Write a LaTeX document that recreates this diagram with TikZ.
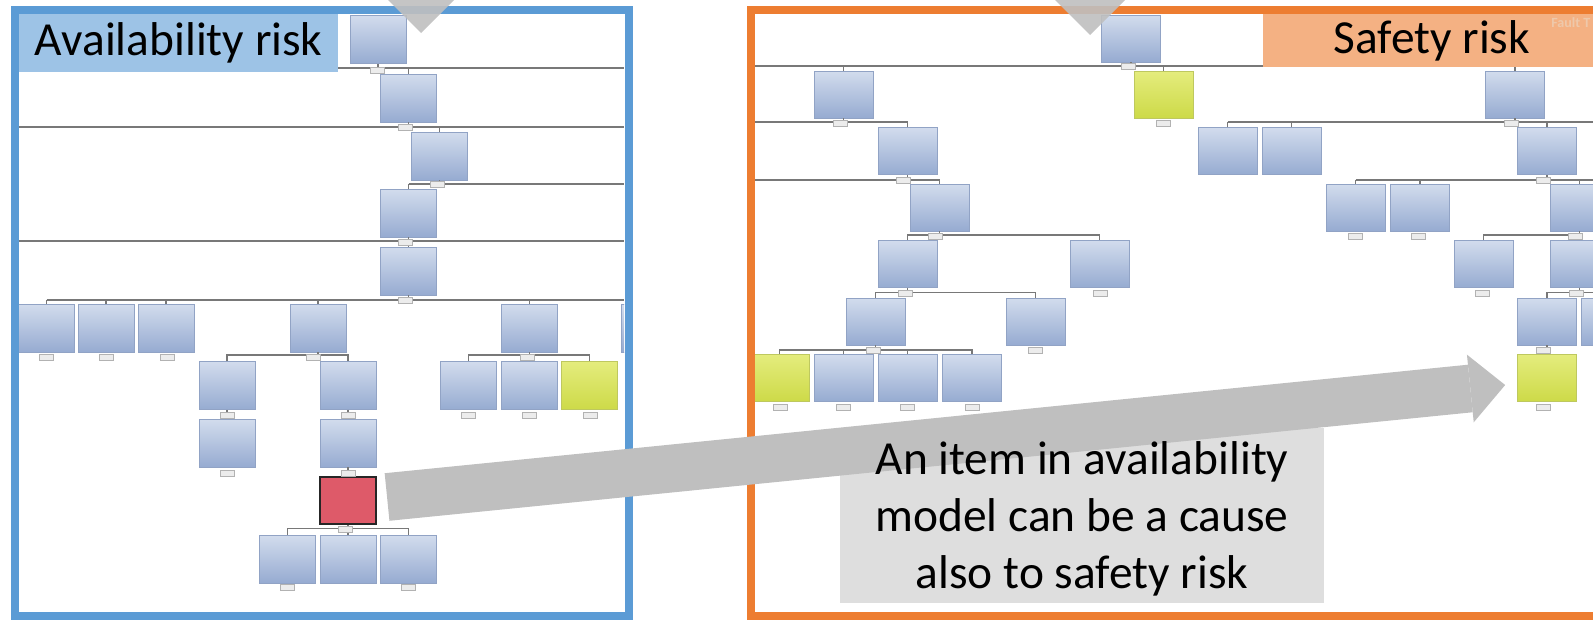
\documentclass[tikz,border=0pt]{standalone}
\usepackage{fontspec}
\setmainfont{Carlito}
\usetikzlibrary{arrows.meta,calc}
\definecolor{availline}{RGB}{91,155,213}
\definecolor{availfill}{RGB}{157,195,230}
\definecolor{safetyline}{RGB}{237,125,49}
\definecolor{safetyfill}{RGB}{244,177,131}
\definecolor{boxtop}{RGB}{210,220,237}
\definecolor{boxbot}{RGB}{150,171,209}
\definecolor{boxedge}{RGB}{145,163,197}
\definecolor{hittop}{RGB}{228,236,125}
\definecolor{hitbot}{RGB}{205,218,72}
\definecolor{hitedge}{RGB}{190,200,95}
\definecolor{redfill}{RGB}{222,90,105}
\definecolor{wiregray}{RGB}{120,120,120}
\definecolor{arrowgray}{RGB}{191,191,191}
\definecolor{notefill}{RGB}{222,222,222}
\definecolor{tagcolor}{RGB}{238,200,170}

\begin{document}
\begin{tikzpicture}[
    x=0.02cm, y=-0.02cm,
    ftbox/.style={rectangle, draw=boxedge, line width=0.4pt, top color=boxtop, bottom color=boxbot, minimum width=1.12cm, minimum height=0.96cm, inner sep=0pt},
    sfbox/.style={ftbox, minimum width=1.18cm, minimum height=0.94cm},
    hitbox/.style={ftbox, draw=hitedge, top color=hittop, bottom color=hitbot},
    redbox/.style={rectangle, draw=black!85, line width=1.2pt, fill=redfill, minimum width=1.12cm, minimum height=0.94cm, inner sep=0pt},
    gate/.style={rectangle, draw=gray!60, fill=gray!15, line width=0.3pt, minimum width=0.28cm, minimum height=0.12cm, inner sep=0pt},
    wire/.style={draw=wiregray, line width=0.85pt},
    titlebox/.style={rectangle, inner sep=0pt, font=\fontsize{27}{32}\selectfont},
    notebox/.style={rectangle, fill=notefill, inner sep=0pt},
    bigarrow/.style={draw=arrowgray, line width=0.956cm, -{Triangle[length=0.7cm, width=1.36cm, line width=0pt]}}
]
\useasboundingbox (0,0) rectangle (1593,619);
\clip (0,0) rectangle (1593,619);

% Availability tree
\begin{scope}
\clip (19,14) rectangle (624,612);
\node[ftbox] (a_top) at (378,39.5) {};
\node[ftbox] (a_n2) at (408.5,98) {};
\node[ftbox] (a_n3) at (439.5,156) {};
\node[ftbox] (a_n4) at (408.5,213) {};
\node[ftbox] (a_n5) at (408.5,271) {};

\node[ftbox] (a_r1) at (46.5,328) {};
\node[ftbox] (a_r2) at (106,328) {};
\node[ftbox] (a_r3) at (166,328) {};
\node[ftbox] (a_r4) at (318,328) {};
\node[ftbox] (a_r5) at (529.5,328) {};
\node[ftbox] (a_r6) at (649,328) {};

\node[ftbox] (a_s1) at (227,385.5) {};
\node[ftbox] (a_s2) at (348,385.5) {};
\node[ftbox] (a_s3) at (468.5,385.5) {};
\node[ftbox] (a_s4) at (529.5,385.5) {};
\node[hitbox] (a_s5) at (589.5,385.5) {};

\node[ftbox] (a_t1) at (227,443) {};
\node[ftbox] (a_t2) at (348,443) {};
\node[redbox] (a_hit) at (348,500.5) {};

\node[ftbox] (a_u1) at (287.5,559) {};
\node[ftbox] (a_u2) at (348,559) {};
\node[ftbox] (a_u3) at (408.5,559) {};

% bus lines
\coordinate (a_bus0w) at (19,68);     \coordinate (a_bus0e) at (624,68);
\coordinate (a_bus1w) at (19,127);    \coordinate (a_bus1e) at (624,127);
\coordinate (a_bus2w) at (408.5,184); \coordinate (a_bus2e) at (624,184);
\coordinate (a_bus3w) at (19,241);    \coordinate (a_bus3e) at (624,241);
\coordinate (a_bus4w) at (46.5,300);  \coordinate (a_bus4e) at (624,300);
\draw[wire] (a_bus0w) -- (a_bus0e);
\draw[wire] (a_bus1w) -- (a_bus1e);
\draw[wire] (a_bus2w) -- (a_bus2e);
\draw[wire] (a_bus3w) -- (a_bus3e);
\draw[wire] (a_bus4w) -- (a_bus4e);

\draw[wire] (a_top.south) -- (a_top.south |- a_bus0w);
\draw[wire] (a_n2.north) -- (a_n2.north |- a_bus0w);
\draw[wire] (a_n2.south) -- (a_n2.south |- a_bus1w);
\draw[wire] (a_n3.north) -- (a_n3.north |- a_bus1w);
\draw[wire] (a_n3.south) -- (a_n3.south |- a_bus2w);
\draw[wire] (a_n4.north) -- (a_n4.north |- a_bus2w);
\draw[wire] (a_n4.south) -- (a_n4.south |- a_bus3w);
\draw[wire] (a_n5.north) -- (a_n5.north |- a_bus3w);
\draw[wire] (a_n5.south) -- (a_n5.south |- a_bus4w);
\draw[wire] (a_r1.north) -- (a_r1.north |- a_bus4w);
\draw[wire] (a_r2.north) -- (a_r2.north |- a_bus4w);
\draw[wire] (a_r3.north) -- (a_r3.north |- a_bus4w);
\draw[wire] (a_r4.north) -- (a_r4.north |- a_bus4w);
\draw[wire] (a_r5.north) -- (a_r5.north |- a_bus4w);
\draw[wire] (a_r6.north) -- (a_r6.north |- a_bus4w);

\draw[wire] (a_r4.south) -- ++(0,4);
\draw[wire] (a_s1.north) -- ++(0,-6) -| (a_s2.north);
\draw[wire] (a_r5.south) -- ++(0,4);
\draw[wire] (a_s3.north) -- ++(0,-6) -| (a_s5.north);
\draw[wire] (a_s4.north) -- ++(0,-6);
\draw[wire] (a_s1.south) -- (a_t1.north);
\draw[wire] (a_s2.south) -- (a_t2.north);
\draw[wire] (a_t2.south) -- (a_hit.north);
\draw[wire] (a_hit.south) -- ++(0,5);
\draw[wire] (a_u1.north) -- ++(0,-6) -| (a_u3.north);
\draw[wire] (a_u2.north) -- ++(0,-6);

% gates
\foreach \gx/\gy [count=\i] in {377/70, 405/127, 437/184, 405/242, 405/300, 46/357, 106/357, 167/357, 313/357, 527/357, 227/415, 348/415, 468/415, 529/415, 590/415, 227/473, 348/473, 345/529, 287/587, 408/587}
    \node[gate] (a_gate\i) at (\gx,\gy) {};
\end{scope}

% Safety tree
\begin{scope}
\clip (755,14) rectangle (1593,612);
\node[sfbox] (s_top) at (1131,38.5) {};

\node[sfbox] (s_c3) at (843.5,94.5) {};
\node[sfbox, draw=hitedge, top color=hittop, bottom color=hitbot] (s_c2) at (1163.5,94.5) {};
\node[sfbox] (s_c1) at (1515,94.5) {};

\node[sfbox] (s_d1) at (907.5,151) {};
\node[sfbox] (s_d2) at (1227.5,151) {};
\node[sfbox] (s_d3) at (1291.5,151) {};
\node[sfbox] (s_d4) at (1547,151) {};

\node[sfbox] (s_e1) at (939.5,207.5) {};
\node[sfbox] (s_e2) at (1355.5,207.5) {};
\node[sfbox] (s_e3) at (1420,207.5) {};
\node[sfbox] (s_e4) at (1579.5,207.5) {};

\node[sfbox] (s_f1) at (907.5,264) {};
\node[sfbox] (s_f2) at (1099.5,264) {};
\node[sfbox] (s_f3) at (1483.5,264) {};
\node[sfbox] (s_f4) at (1579.5,264) {};

\node[sfbox] (s_g1) at (875.5,321.5) {};
\node[sfbox] (s_g2) at (1035.5,321.5) {};
\node[sfbox] (s_g3) at (1547,321.5) {};
\node[sfbox] (s_g4) at (1611,321.5) {};

\node[sfbox, draw=hitedge, top color=hittop, bottom color=hitbot] (s_h1) at (779.5,378) {};
\node[sfbox] (s_h2) at (843.5,378) {};
\node[sfbox] (s_h3) at (907.5,378) {};
\node[sfbox] (s_h4) at (972,378) {};
\node[sfbox, draw=hitedge, top color=hittop, bottom color=hitbot] (s_hit) at (1547,378) {};

% bus lines
\coordinate (s_bus0w) at (755,66);    \coordinate (s_bus0e) at (1263,66);
\coordinate (s_bus1w) at (755,122);   \coordinate (s_bus1e) at (1600,122);
\coordinate (s_bus2w) at (755,180);   \coordinate (s_bus2e) at (1600,180);
\draw[wire] (s_bus0w) -- (s_bus0e);
\draw[wire] (s_bus1w) -- (s_bus1w -| s_d1.north);
\draw[wire] (s_d2.north |- s_bus1e) -- (s_bus1e);
\draw[wire] (s_bus2w) -- (s_bus2w -| s_e1.north);
\draw[wire] (s_e2.north |- s_bus2e) -- (s_bus2e);

\draw[wire] (s_top.south) -- (s_top.south |- s_bus0w);
\draw[wire] (s_c3.north) -- (s_c3.north |- s_bus0w);
\draw[wire] (s_c2.north) -- (s_c2.north |- s_bus0w);
\draw[wire] (s_c1.north) -- ++(0,-6);
\draw[wire] (s_c3.south) -- (s_c3.south |- s_bus1w);
\draw[wire] (s_c1.south) -- (s_c1.south |- s_bus1w);
\draw[wire] (s_d1.north) -- (s_d1.north |- s_bus1w);
\draw[wire] (s_d2.north) -- (s_d2.north |- s_bus1w);
\draw[wire] (s_d3.north) -- (s_d3.north |- s_bus1w);
\draw[wire] (s_d4.north) -- (s_d4.north |- s_bus1w);
\draw[wire] (s_d1.south) -- (s_d1.south |- s_bus2w);
\draw[wire] (s_d4.south) -- (s_d4.south |- s_bus2w);
\draw[wire] (s_e1.north) -- (s_e1.north |- s_bus2w);
\draw[wire] (s_e2.north) -- (s_e2.north |- s_bus2w);
\draw[wire] (s_e3.north) -- (s_e3.north |- s_bus2w);
\draw[wire] (s_e4.north) -- (s_e4.north |- s_bus2w);

\draw[wire] (s_e1.south) -- ++(0,5);
\draw[wire] (s_f1.north) -- ++(0,-5) -| (s_f2.north);
\draw[wire] (s_e4.south) -- ++(0,5);
\draw[wire] (s_f3.north) -- ++(0,-5) -| (s_f4.north);
\draw[wire] (s_f1.south) -- ++(0,6);
\draw[wire] (s_g1.north) -- ++(0,-5) -| (s_g2.north);
\draw[wire] (s_f4.south) -- ++(0,6);
\draw[wire] (s_g3.north) -- ++(0,-5) -| (s_g4.north);
\draw[wire] (s_g1.south) -- ++(0,5);
\draw[wire] (s_h1.north) -- ++(0,-4) -| (s_h4.north);
\draw[wire] (s_h2.north) -- ++(0,-4);
\draw[wire] (s_h3.north) -- ++(0,-4);
\draw[wire] (s_g3.south) -- (s_hit.north);

% gates
\foreach \gx/\gy [count=\i] in {1128/66, 840/123, 1163/123, 1511/123, 903/180, 1543/180, 935/236, 1355/236, 1418/236, 1575/236, 905/293, 1100/293, 1482/293, 1576/293, 873/350, 1035/350, 1543/350, 780/407, 843/407, 907/407, 972/407, 1543/407}
    \node[gate] (s_gate\i) at (\gx,\gy) {};
\end{scope}

% Frames
\draw[availline, line width=0.16cm] (15,10) rectangle (628.5,616);
\draw[safetyline, line width=0.16cm] (751,10) rectangle (1620,616);

% Titles
\node[titlebox, fill=availfill, minimum width=6.38cm, minimum height=1.16cm, anchor=north west] (avail_title) at (19,14) {Availability risk};
\node[titlebox, fill=safetyfill, minimum width=6.74cm, minimum height=1.06cm, anchor=north west] (safety_title) at (1263,14) {Safety risk};
\node[font=\fontsize{8}{8}\selectfont\bfseries, text=tagcolor, anchor=west, inner sep=0pt] (fault_tag) at (1551,23) {Fault T};

% Incoming arrow heads
\fill[arrowgray, opacity=0.9] (382,-6) -- (460,-6) -- (421,33) -- cycle;
\fill[arrowgray, opacity=0.9] (1049,-6) -- (1131,-6) -- (1090,35) -- cycle;

% Note and link arrow
\node[notebox, minimum width=9.68cm, minimum height=3.5cm] (note_bg) at (1082,515.5) {};
\draw[bigarrow] ($(a_hit.east)+(10,-3.5)$) -- ($(s_hit.west)+(-12,7)$);
\node[font=\fontsize{27}{32.3}\selectfont, align=center, inner sep=0pt] (note) at (1082,519) {An item in availability\\model can be a cause\\also to safety risk};

\end{tikzpicture}
\end{document}
